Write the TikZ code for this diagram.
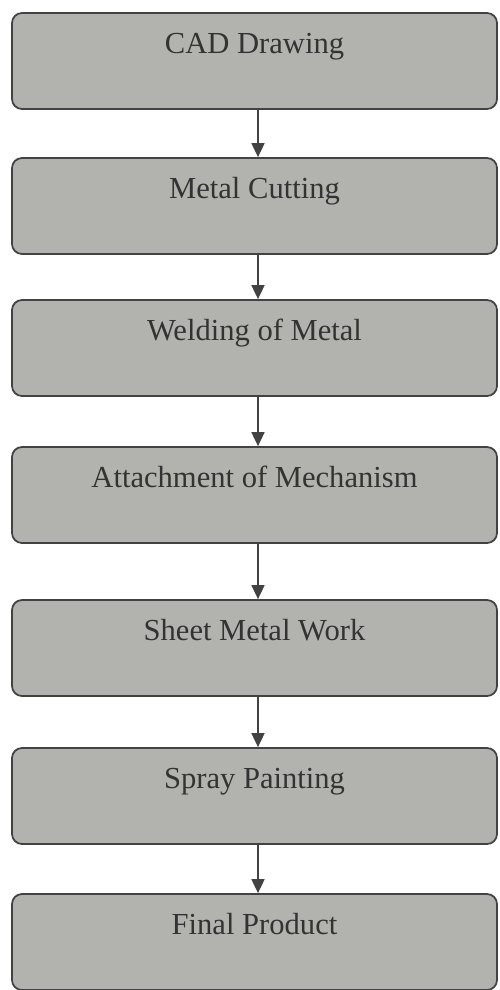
\documentclass[tikz,border=0pt]{standalone}
\usepackage{fontspec}
\setmainfont{Liberation Serif}
\usetikzlibrary{arrows.meta}
\definecolor{boxgray}{RGB}{178,178,174}
\definecolor{linegray}{RGB}{66,66,66}
\begin{document}
\begin{tikzpicture}
[stepbox/.style={shape=rectangle,rounded corners=0.2cm,draw=linegray,fill=boxgray,
   line width=1pt,minimum width=9.7cm,inner sep=0pt,text height=0.8cm,text depth=1.12cm,
   font=\fontsize{17.4}{20}\selectfont,text=black!80},%
  flowline/.style={-{Triangle[length=0.28cm,width=0.26cm]},line width=1pt,draw=linegray}]
\useasboundingbox (0,0) rectangle (9.98,-19.8);
%% process boxes
\foreach \nodename/\y/\caption in {cad/-1.22/CAD Drawing, cutting/-4.12/Metal Cutting,
  welding/-6.96/Welding of Metal, mechanism/-9.90/Attachment of Mechanism,
  sheet/-12.96/Sheet Metal Work, painting/-15.92/Spray Painting,
  product/-18.84/Final Product}
{
  \node (\nodename) at (5.09,\y) [stepbox] {\caption};
}
%% arrows
\path
\foreach \startnode/\endnode in {cad/cutting, cutting/welding, welding/mechanism,
  mechanism/sheet, sheet/painting, painting/product}
{
  ([xshift=0.07cm]\startnode.south) edge[flowline] ([xshift=0.07cm]\endnode.north)
};
\end{tikzpicture}
\end{document}
